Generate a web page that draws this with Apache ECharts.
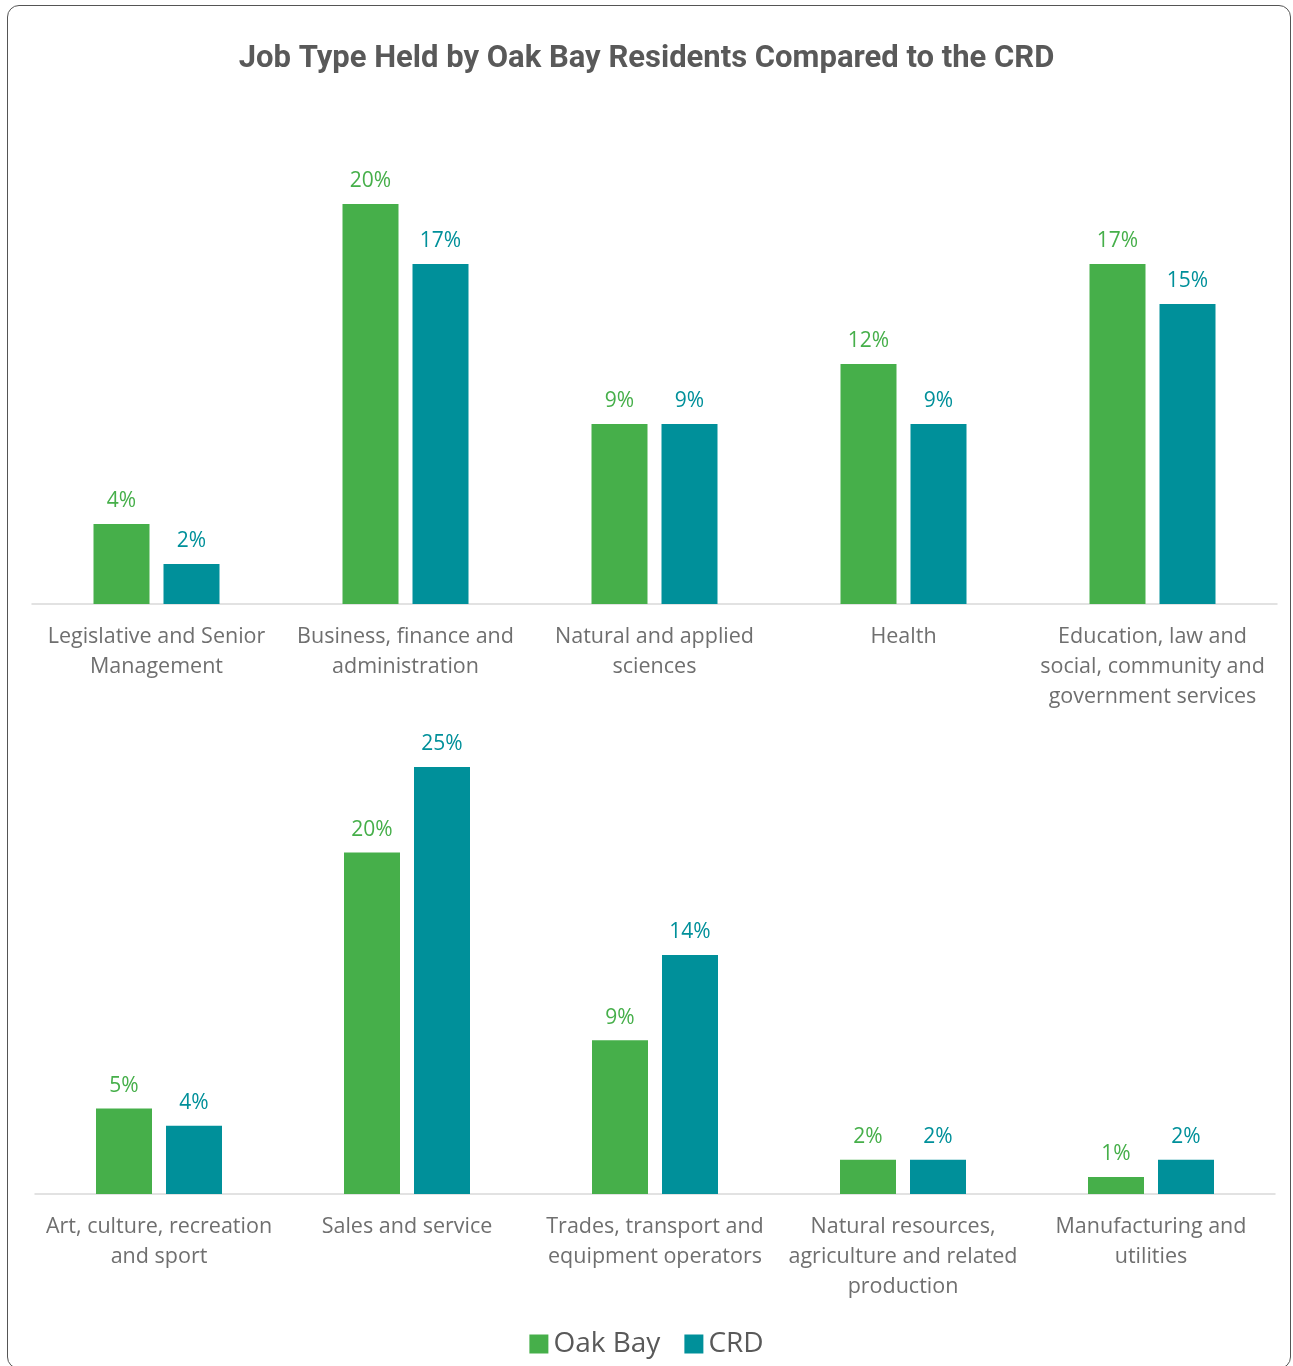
<!DOCTYPE html>
<html>
<head>
<meta charset="utf-8">
<script src="https://cdn.jsdelivr.net/npm/echarts@6/dist/echarts.min.js"></script>
<style>
  html, body { margin: 0; padding: 0; background: #fff; }
  #frame {
    position: absolute; left: 7px; top: 5px; width: 1284px; height: 1364px;
    border: 1.5px solid #555; border-radius: 12px; box-sizing: border-box;
  }
  #chart { position: absolute; left: 0; top: 0; width: 1293px; height: 1366px; }
</style>
</head>
<body>
<div id="frame"></div>
<div id="chart"></div>
<script>
const topCategories = [
  'Legislative and Senior\nManagement',
  'Business, finance and\nadministration',
  'Natural and applied\nsciences',
  'Health',
  'Education, law and\nsocial, community and\ngovernment services'
];
const topOakBay = [4, 20, 9, 12, 17];
const topCrd = [2, 17, 9, 9, 15];

const bottomCategories = [
  'Art, culture, recreation\nand sport',
  'Sales and service',
  'Trades, transport and\nequipment operators',
  'Natural resources,\nagriculture and related\nproduction',
  'Manufacturing and\nutilities'
];
const bottomOakBay = [5, 20, 9, 2, 1];
const bottomCrd = [4, 25, 14, 2, 2];

const green = '#46af4a';
const teal = '#00909a';
const textFont = '"Open Sans", Roboto, sans-serif';

const chart = echarts.init(document.getElementById('chart'));

const xAxisStyle = (gridIndex, data) => ({
  type: 'category',
  gridIndex: gridIndex,
  data: data,
  axisTick: { show: false },
  axisLine: { lineStyle: { color: '#d9d9d9', width: 1.5 } },
  axisLabel: {
    interval: 0,
    color: '#6f6f6f',
    fontFamily: textFont,
    fontSize: 21.5,
    lineHeight: 30,
    margin: 18
  }
});

const yAxisStyle = (gridIndex, max) => ({
  type: 'value',
  gridIndex: gridIndex,
  min: 0,
  max: max,
  show: false
});

const barSeries = (name, data, color, axisIndex) => ({
  name: name,
  type: 'bar',
  xAxisIndex: axisIndex,
  yAxisIndex: axisIndex,
  data: data,
  barWidth: 56,
  barGap: '25%',
  itemStyle: { color: color },
  label: {
    show: true,
    position: 'top',
    distance: 12,
    color: color,
    fontFamily: textFont,
    fontSize: 21,
    formatter: '{c}%'
  }
});

chart.setOption({
  animation: false,
  title: {
    text: 'Job Type Held by Oak Bay Residents Compared to the CRD',
    left: 'center',
    top: 39,
    textStyle: {
      color: '#595959',
      fontFamily: 'Roboto, sans-serif',
      fontWeight: 'bold',
      fontSize: 31
    }
  },
  legend: {
    top: 1325,
    left: 'center',
    itemWidth: 19,
    itemHeight: 19,
    itemGap: 24,
    icon: 'rect',
    textStyle: { color: '#595959', fontFamily: textFont, fontSize: 28 },
    data: ['Oak Bay', 'CRD']
  },
  grid: [
    { left: 32, right: 16, top: 204, height: 400 },
    { left: 35, right: 18, top: 767, height: 427 }
  ],
  xAxis: [xAxisStyle(0, topCategories), xAxisStyle(1, bottomCategories)],
  yAxis: [yAxisStyle(0, 20), yAxisStyle(1, 25)],
  series: [
    barSeries('Oak Bay', topOakBay, green, 0),
    barSeries('CRD', topCrd, teal, 0),
    barSeries('Oak Bay', bottomOakBay, green, 1),
    barSeries('CRD', bottomCrd, teal, 1)
  ]
});
</script>
</body>
</html>
